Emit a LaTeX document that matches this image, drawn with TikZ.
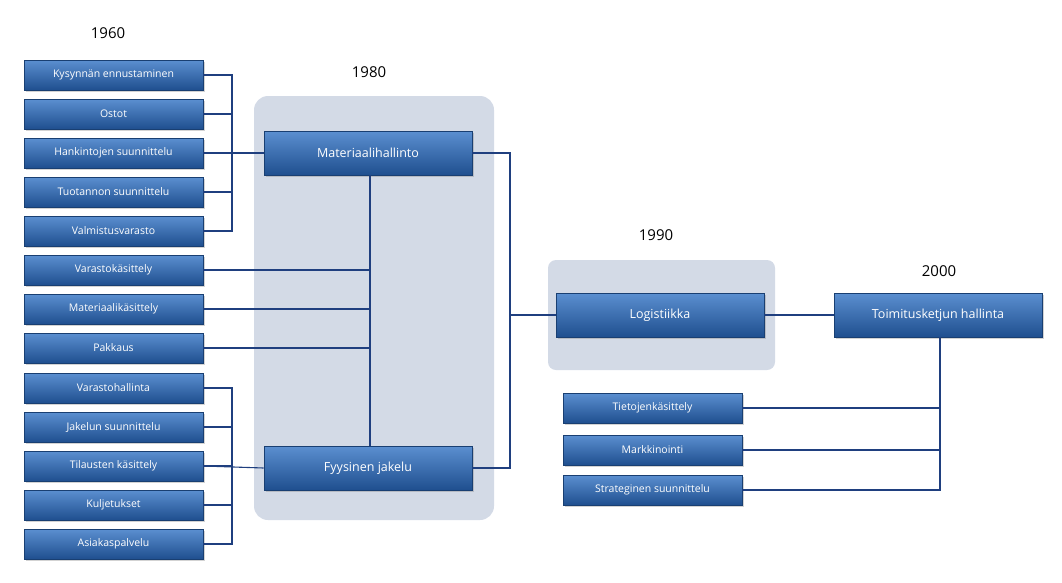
\documentclass[tikz,border=0pt]{standalone}
\usepackage{fontspec}
\setmainfont{Open Sans}
\usetikzlibrary{shadows}
\definecolor{btop}{HTML}{5B8FD0}
\definecolor{bbot}{HTML}{1F4F8F}
\definecolor{ln}{HTML}{1F3F7F}
\definecolor{bgp}{HTML}{D3DAE6}
\tikzset{
 bx/.style={draw=bbot!80!black,line width=0.6pt,top color=btop,bottom color=bbot,text=white,
   drop shadow={opacity=0.35,shadow xshift=1.5pt,shadow yshift=-1.5pt},inner sep=0pt},
 sm/.style={bx,minimum width=179pt,minimum height=30pt,font=\fontsize{10.5}{12}\selectfont},
 bg/.style={bx,minimum width=208pt,minimum height=44pt,font=\fontsize{12.5}{14}\selectfont},
 yr/.style={font=\fontsize{15}{18}\selectfont},
 cn/.style={ln,line width=1.1pt},
 back/.style={fill=bgp,draw=none,rounded corners=14pt}
}
\begin{document}
\begin{tikzpicture}[x=1pt,y=-1pt]
\useasboundingbox (0,0) rectangle (1062,582);
\fill[back] (254,96) rectangle (494,520);
\fill[back,rounded corners=8pt] (548,260) rectangle (775,370);
\node[yr] (y1) at (108,33) {1960};
\node[yr] (y2) at (369,72) {1980};
\node[yr] (y3) at (656,235) {1990};
\node[yr] (y4) at (939,271) {2000};
\node[bg] (mh) at (368,153) {Materiaalihallinto};
\node[bg] (fj) at (368,468) {Fyysinen jakelu};
\node[bg] (lo) at (660,315) {Logistiikka};
\node[bg] (tk) at (938,315) {Toimitusketjun hallinta};
\foreach \n/\t/\y in {a1/Kysynnän ennustaminen/75,a2/Ostot/114,a3/Hankintojen suunnittelu/153,a4/Tuotannon suunnittelu/192,a5/Valmistusvarasto/231,b1/Varastokäsittely/270,b2/Materiaalikäsittely/309,b3/Pakkaus/348,c1/Varastohallinta/388,c2/Jakelun suunnittelu/427,c3/Tilausten käsittely/466,c4/Kuljetukset/505,c5/Asiakaspalvelu/544}
  \node[sm] (\n) at (113.5,\y) {\t};
\foreach \n/\t/\y in {d1/Tietojenkäsittely/408,d2/Markkinointi/450,d3/Strateginen suunnittelu/490}
  \node[sm] (\n) at (652.5,\y) {\t};
\coordinate (ja) at (232,0); \coordinate (jc) at (370,0);
\draw[cn] (a1.east) -| (ja |- a5) -- (a5.east);
\foreach \n in {a2,a3,a4} \draw[cn] (\n.east) -- (ja |- \n);
\draw[cn] (a3.east) -- (mh.west);
\draw[cn] (c1.east) -| (ja |- c5) -- (c5.east);
\foreach \n in {c2,c3,c4} \draw[cn] (\n.east) -- (ja |- \n);
\draw[cn] (c3.east) -- (fj.west);
\draw[cn] (jc |- mh.south) -- (jc |- fj.north);
\foreach \n in {b1,b2,b3} \draw[cn] (\n.east) -- (jc |- \n);
\coordinate (jr) at (510,0);
\draw[cn] (mh.east) -| (jr |- fj) -- (fj.east);
\draw[cn] (jr |- lo) -- (lo.west);
\draw[cn] (lo.east) -- (tk.west);
\coordinate (jt) at (940,0);
\draw[cn] (jt |- tk.south) -- (jt |- d3) -- (d3.east);
\draw[cn] (d1.east) -- (jt |- d1);
\draw[cn] (d2.east) -- (jt |- d2);
\end{tikzpicture}
\end{document}
